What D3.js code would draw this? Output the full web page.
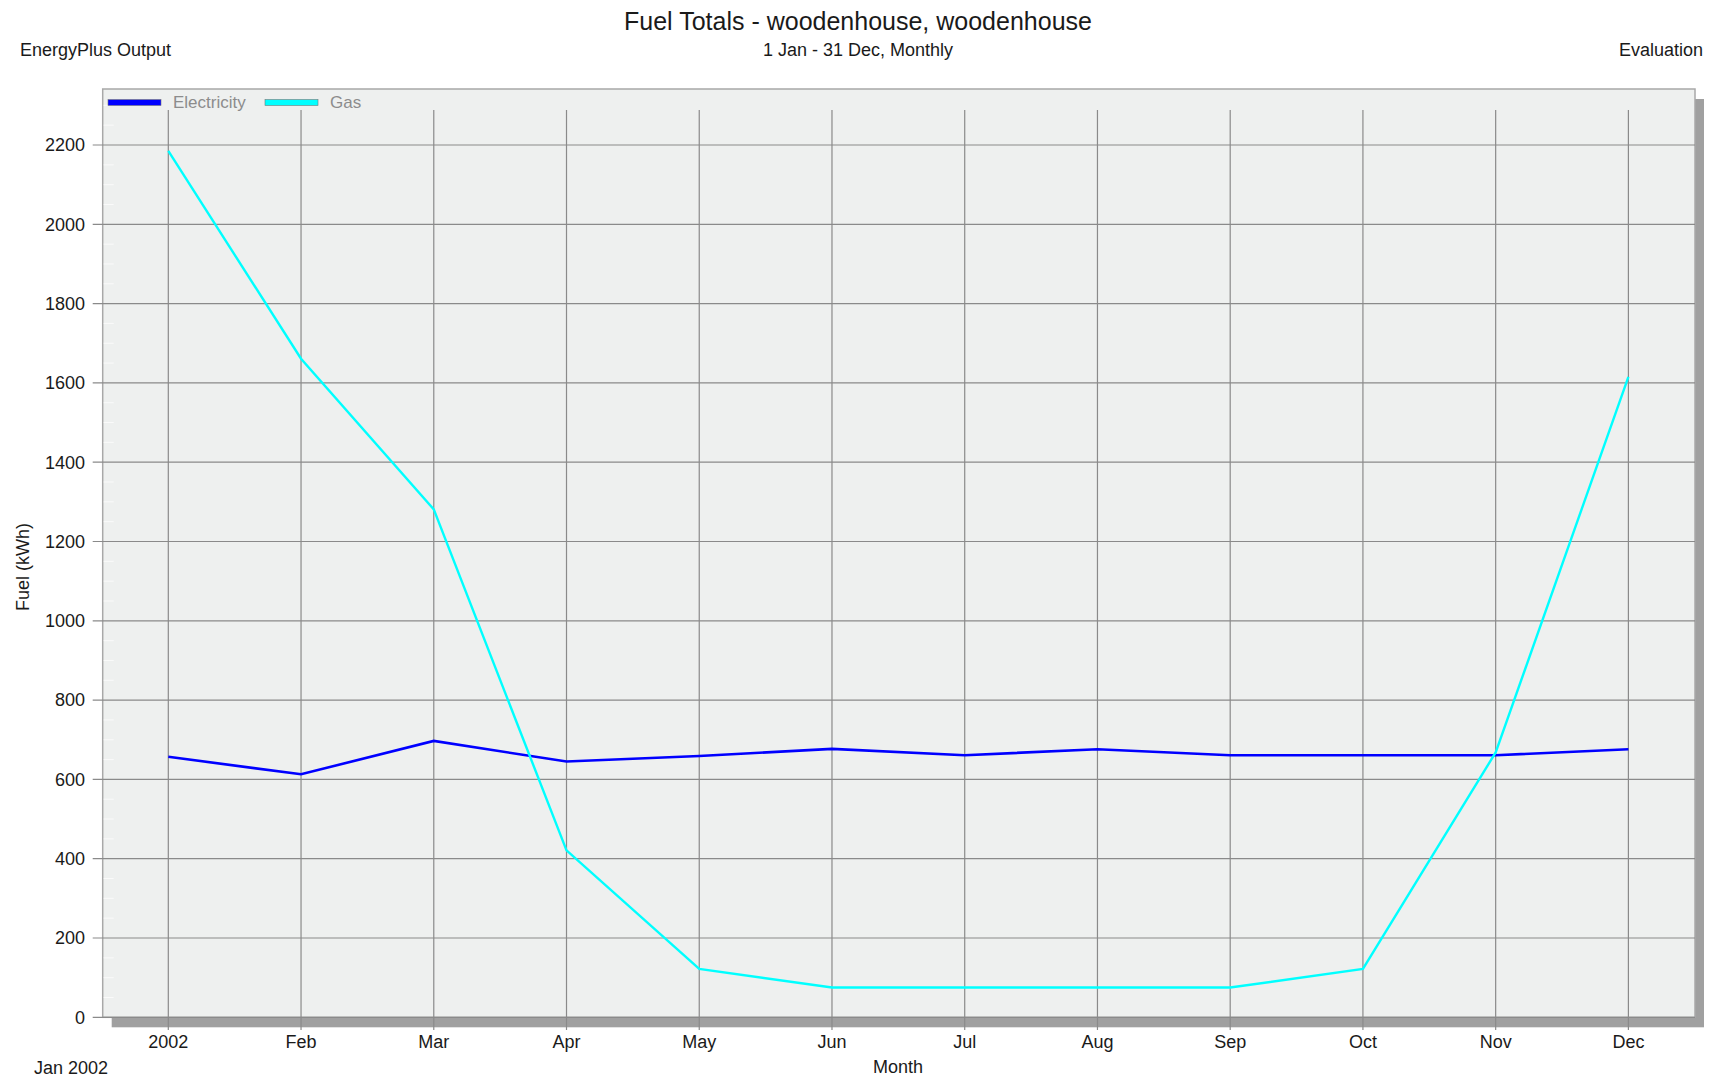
<!DOCTYPE html>
<html>
<head>
<meta charset="utf-8">
<script src="https://cdn.jsdelivr.net/npm/d3@7"></script>
<style>
  body { margin: 0; background: #fff; }
  text { font-family: "Liberation Sans", Arial, sans-serif; fill: #1a1a1a; }
</style>
</head>
<body>
<script>
var months = ["Jan", "Feb", "Mar", "Apr", "May", "Jun", "Jul", "Aug", "Sep", "Oct", "Nov", "Dec"];
var monthLabels = ["2002", "Feb", "Mar", "Apr", "May", "Jun", "Jul", "Aug", "Sep", "Oct", "Nov", "Dec"];
var electricity = [657, 613, 697, 645, 659, 677, 661, 676, 661, 661, 661, 676];
var gas = [2185, 1661, 1281, 421, 122, 75, 75, 75, 75, 122, 668, 1615];
var yTicks = [0, 200, 400, 600, 800, 1000, 1200, 1400, 1600, 1800, 2000, 2200];

var width = 1713,
    height = 1082;

var frame = { left: 102.7, right: 1695, top: 89, bottom: 1017.3 };

var svg = d3.select("body").append("svg")
    .attr("width", width)
    .attr("height", height);

var x = d3.scalePoint()
    .domain(months)
    .range([168.3, 1628.4]);

var y = d3.scaleLinear()
    .domain([0, 2200])
    .range([1017.3, 145]);

// shadow + plot frame
svg.append("rect")
    .attr("x", frame.left + 9).attr("y", frame.top + 10)
    .attr("width", frame.right - frame.left).attr("height", frame.bottom - frame.top)
    .attr("fill", "#a0a0a0");
svg.append("rect")
    .attr("x", frame.left).attr("y", frame.top)
    .attr("width", frame.right - frame.left).attr("height", frame.bottom - frame.top)
    .attr("fill", "#eef0ef")
    .attr("stroke", "#a8a8a8")
    .attr("stroke-width", 1.5);

// minor ticks (faint, inside left edge)
svg.append("g").selectAll("line")
  .data(d3.range(50, 2350, 50).filter(function(d){ return d % 200 !== 0 && y(d) > frame.top; }))
  .enter().append("line")
    .attr("x1", frame.left + 1).attr("x2", frame.left + 11)
    .attr("y1", function(d){ return y(d); }).attr("y2", function(d){ return y(d); })
    .attr("stroke", "#fafafa").attr("stroke-width", 1);

// horizontal grid + y ticks
svg.append("g").selectAll("line")
  .data(yTicks)
  .enter().append("line")
    .attr("x1", 92.7).attr("x2", frame.right)
    .attr("y1", function(d){ return y(d); }).attr("y2", function(d){ return y(d); })
    .attr("stroke", "#8a8a8a").attr("stroke-width", 1.2);

// vertical grid + x ticks
svg.append("g").selectAll("line")
  .data(months)
  .enter().append("line")
    .attr("x1", function(d){ return x(d); }).attr("x2", function(d){ return x(d); })
    .attr("y1", 110).attr("y2", 1030)
    .attr("stroke", "#8a8a8a").attr("stroke-width", 1.2);

// y tick labels
svg.append("g").selectAll("text")
  .data(yTicks)
  .enter().append("text")
    .attr("x", 85).attr("y", function(d){ return y(d); })
    .attr("dy", "0.35em")
    .attr("text-anchor", "end")
    .style("font-size", "18px")
    .text(function(d){ return d; });

// x tick labels
svg.append("g").selectAll("text")
  .data(months)
  .enter().append("text")
    .attr("x", function(d){ return x(d); }).attr("y", 1042)
    .attr("dy", "0.35em")
    .attr("text-anchor", "middle")
    .style("font-size", "18px")
    .text(function(d, i){ return monthLabels[i]; });

// lines
var line = d3.line()
    .x(function(d, i){ return x(months[i]); })
    .y(function(d){ return y(d); });

svg.append("path")
    .datum(electricity)
    .attr("fill", "none")
    .attr("stroke", "#0000ff")
    .attr("stroke-width", 2.6)
    .attr("d", line);

svg.append("path")
    .datum(gas)
    .attr("fill", "none")
    .attr("stroke", "#00ffff")
    .attr("stroke-width", 2.4)
    .attr("d", line);

// legend
var legend = [
  { name: "Electricity", color: "#0000ff", x: 108 },
  { name: "Gas", color: "#00ffff", x: 265 }
];
var lg = svg.append("g").selectAll("g")
  .data(legend)
  .enter().append("g");
lg.append("rect")
    .attr("x", function(d){ return d.x; }).attr("y", 99.5)
    .attr("width", 53).attr("height", 6)
    .attr("fill", function(d){ return d.color; })
    .attr("stroke", "#777").attr("stroke-width", 0.6);
lg.append("text")
    .attr("x", function(d){ return d.x + 65; }).attr("y", 102)
    .attr("dy", "0.35em")
    .style("font-size", "17px")
    .style("fill", "#8c8c8c")
    .text(function(d){ return d.name; });

// titles
svg.append("text")
    .attr("x", 858).attr("y", 21).attr("dy", "0.35em")
    .attr("text-anchor", "middle")
    .style("font-size", "25px")
    .text("Fuel Totals - woodenhouse, woodenhouse");
svg.append("text")
    .attr("x", 858).attr("y", 50).attr("dy", "0.35em")
    .attr("text-anchor", "middle")
    .style("font-size", "18px")
    .text("1 Jan - 31 Dec, Monthly");
svg.append("text")
    .attr("x", 20).attr("y", 50).attr("dy", "0.35em")
    .style("font-size", "18px")
    .text("EnergyPlus Output");
svg.append("text")
    .attr("x", 1703).attr("y", 50).attr("dy", "0.35em")
    .attr("text-anchor", "end")
    .style("font-size", "18px")
    .text("Evaluation");

// axis titles
svg.append("text")
    .attr("transform", "translate(23,567) rotate(-90)")
    .attr("dy", "0.35em")
    .attr("text-anchor", "middle")
    .style("font-size", "18px")
    .text("Fuel (kWh)");
svg.append("text")
    .attr("x", 898).attr("y", 1067).attr("dy", "0.35em")
    .attr("text-anchor", "middle")
    .style("font-size", "18px")
    .text("Month");
svg.append("text")
    .attr("x", 71).attr("y", 1068).attr("dy", "0.35em")
    .attr("text-anchor", "middle")
    .style("font-size", "18px")
    .text("Jan 2002");
</script>
</body>
</html>
